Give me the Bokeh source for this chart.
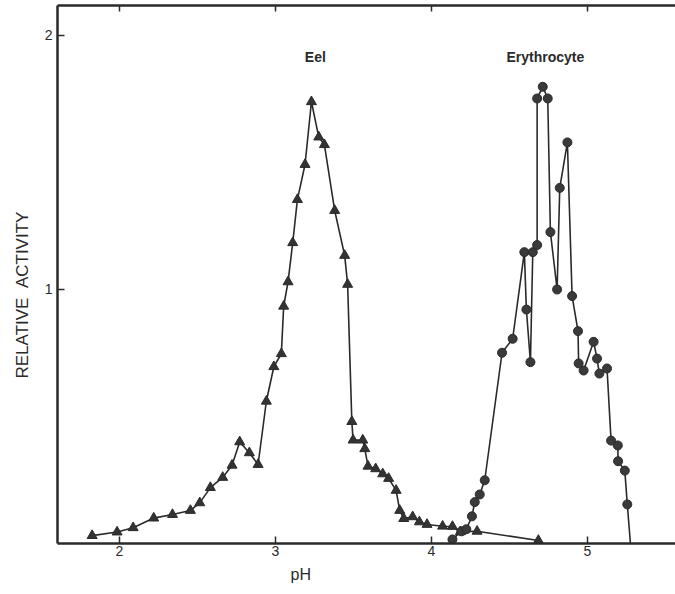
from bokeh.plotting import figure
from bokeh.models import LinearAxis, FixedTicker, Range1d, Label, ColumnDataSource, Title
from bokeh.embed import file_html
from bokeh.resources import INLINE

# Eel (triangles)
eel_ph = [1.825, 1.985, 2.088, 2.22, 2.34, 2.455, 2.515, 2.583, 2.662, 2.722, 2.771, 2.833, 2.889,
          2.942, 2.99, 3.038, 3.053, 3.081, 3.111, 3.141, 3.19, 3.231, 3.278, 3.314, 3.38, 3.444,
          3.463, 3.49, 3.498, 3.56, 3.573, 3.594, 3.643, 3.688, 3.726, 3.774, 3.797, 3.823, 3.88,
          3.923, 3.972, 4.072, 4.135, 4.186, 4.293, 4.686]
eel_act = [0.031, 0.045, 0.062, 0.10, 0.114, 0.13, 0.16, 0.22, 0.26, 0.308, 0.40, 0.357, 0.311,
           0.56, 0.696, 0.747, 0.934, 1.03, 1.184, 1.354, 1.492, 1.739, 1.60, 1.57, 1.311, 1.134,
           1.02, 0.48, 0.407, 0.407, 0.373, 0.304, 0.294, 0.274, 0.256, 0.209, 0.13, 0.098, 0.105,
           0.085, 0.075, 0.068, 0.067, 0.046, 0.048, 0.012]

# Erythrocyte (circles); last point is the line's end on the axis (no marker)
ery_ph = [4.135, 4.192, 4.224, 4.26, 4.278, 4.31, 4.342, 4.453, 4.521, 4.596, 4.609, 4.635, 4.65,
          4.678, 4.678, 4.714, 4.746, 4.763, 4.806, 4.823, 4.872, 4.902, 4.94, 4.944, 4.976, 5.04,
          5.062, 5.077, 5.126, 5.152, 5.195, 5.197, 5.24, 5.256, 5.276]
ery_act = [0.016, 0.048, 0.056, 0.107, 0.163, 0.193, 0.249, 0.751, 0.806, 1.147, 0.921, 0.714, 1.147,
           1.175, 1.752, 1.798, 1.752, 1.226, 1.0, 1.40, 1.579, 0.974, 0.836, 0.709, 0.681, 0.794,
           0.728, 0.669, 0.689, 0.405, 0.386, 0.324, 0.287, 0.154, 0.0]

x_ticks = [2, 3, 4, 5]
y_ticks = [1, 2]

FONT = "Liberation Sans"
INK = "#2a2a2a"

p = figure(width=675, height=594, output_backend="svg", toolbar_location=None,
           x_range=Range1d(1.603, 5.565), y_range=Range1d(0, 2.118),
           min_border_left=57, min_border_top=5, min_border_right=0, min_border_bottom=51)
p.outline_line_color = None
p.grid.visible = False
p.background_fill_color = "white"
p.border_fill_color = "white"

for ax in p.xaxis:
    ax.ticker = FixedTicker(ticks=x_ticks)
    ax.major_tick_in = 7
    ax.major_tick_out = 0
    ax.minor_tick_line_color = None
    ax.axis_line_width = 2.5
    ax.axis_line_color = INK
    ax.major_tick_line_color = INK
    ax.major_tick_line_width = 1.5
    ax.major_label_text_font = FONT
    ax.major_label_text_font_size = "14px"
    ax.major_label_text_color = INK
    ax.major_label_standoff = 2

for ax in p.yaxis:
    ax.ticker = FixedTicker(ticks=y_ticks)
    ax.major_tick_in = 7
    ax.major_tick_out = 0
    ax.minor_tick_line_color = None
    ax.axis_line_width = 2.5
    ax.axis_line_color = INK
    ax.major_tick_line_color = INK
    ax.major_tick_line_width = 1.5
    ax.major_label_text_font = FONT
    ax.major_label_text_font_size = "14px"
    ax.major_label_text_color = INK
    ax.major_label_standoff = 5

top = LinearAxis(ticker=FixedTicker(ticks=x_ticks), major_tick_in=6, major_tick_out=0,
                 minor_tick_line_color=None, axis_line_width=2.5, axis_line_color=INK,
                 major_tick_line_color=INK, major_tick_line_width=1.5,
                 major_label_text_font_size="0px", major_label_text_alpha=0)
p.add_layout(top, "above")

eel = ColumnDataSource(dict(x=eel_ph, y=eel_act))
ery = ColumnDataSource(dict(x=ery_ph, y=ery_act))
ery_m = ColumnDataSource(dict(x=ery_ph[:-1], y=ery_act[:-1]))

p.line("x", "y", source=eel, line_color=INK, line_width=1.6)
p.scatter("x", "y", source=eel, marker="triangle", size=10, fill_color="#333333", line_color=INK)
p.line("x", "y", source=ery, line_color=INK, line_width=1.6)
p.scatter("x", "y", source=ery_m, marker="circle", size=9, fill_color="#3a3a3a", line_color=INK)

p.add_layout(Label(x=3.256, y=1.917, text="Eel", text_align="center", text_baseline="middle",
                   text_font=FONT, text_font_size="14px", text_font_style="bold", text_color=INK))
p.add_layout(Label(x=4.731, y=1.917, text="Erythrocyte", text_align="center", text_baseline="middle",
                   text_font=FONT, text_font_size="14px", text_font_style="bold", text_color=INK))

# axis titles, placed where the original figure has them
p.add_layout(Title(text="pH", align="left", offset=233, standoff=11,
                   text_font=FONT, text_font_size="16px", text_font_style="normal",
                   text_color=INK), "below")
p.add_layout(Title(text="RELATIVE\u00a0\u00a0ACTIVITY", align="left", offset=165, standoff=20,
                   text_font=FONT, text_font_size="17px", text_font_style="normal",
                   text_color=INK), "left")

open("out.html", "w").write(file_html(p, INLINE))
